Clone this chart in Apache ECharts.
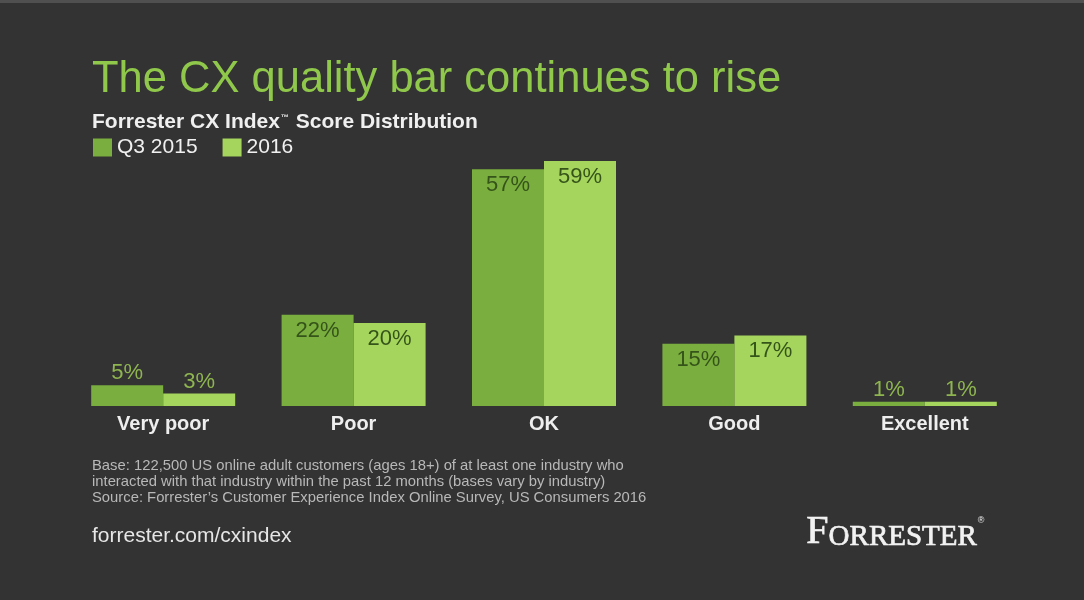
<!DOCTYPE html>
<html>
<head>
<meta charset="utf-8">
<script src="https://cdn.jsdelivr.net/npm/echarts@6/dist/echarts.min.js"></script>
<style>
html,body{margin:0;padding:0;background:#333333;}
#c{width:1084px;height:600px;}
</style>
</head>
<body>
<div id="c"></div>
<script>
const categories = ['Very poor', 'Poor', 'OK', 'Good', 'Excellent'];
const seriesNames = ['Q3 2015', '2016'];
const q3_2015 = [5, 22, 57, 15, 1];
const y2016 = [3, 20, 59, 17, 1];

const darkGreen = '#7aae3e';
const lightGreen = '#a5d55c';

function withLabels(arr) {
  return arr.map(v => {
    const small = v < 10;
    return {
      value: v,
      label: small
        ? { show: true, position: 'top', distance: 1, color: '#8fb550' }
        : { show: true, position: 'insideTop', distance: 5, color: '#35541a' }
    };
  });
}

const chart = echarts.init(document.getElementById('c'), null, { renderer: 'canvas' });
chart.setOption({
  backgroundColor: '#333333',
  animation: false,
  textStyle: { fontFamily: 'Liberation Sans, Arial, sans-serif' },
  title: [
    { text: 'The CX quality bar continues to rise', left: 87, top: 53,
      textStyle: { color: '#8fc84a', fontSize: 43.5, fontWeight: 'normal' } },
    { text: '{m|Forrester CX Index}{t|\u2122}{m| Score Distribution}', left: 87, top: 107,
      textStyle: {
        rich: {
          m: { color: '#f0f0f0', fontSize: 21, fontWeight: 'bold', fontFamily: 'Liberation Sans, Arial, sans-serif' },
          t: { color: '#f0f0f0', fontSize: 8, fontWeight: 'bold', verticalAlign: 'top', padding: [2, 1, 0, 1], fontFamily: 'Liberation Sans, Arial, sans-serif' }
        }
      } }
  ],
  legend: {
    data: seriesNames, left: 93, top: 137, padding: 0,
    icon: 'rect', itemWidth: 19, itemHeight: 18, itemGap: 25,
    textStyle: { color: '#f0f0f0', fontSize: 21, padding: [0, 0, 0, 0] }
  },
  grid: { left: 68, right: 64, top: 161, bottom: 194 },
  xAxis: {
    type: 'category', data: categories,
    axisLine: { show: false }, axisTick: { show: false },
    axisLabel: { color: '#eeeeee', fontSize: 20, fontWeight: 'bold', margin: 8 }
  },
  yAxis: { type: 'value', min: 0, max: 59, show: false, splitLine: { show: false } },
  series: [
    { name: seriesNames[0], type: 'bar', data: withLabels(q3_2015), barWidth: 72, barGap: '0%',
      itemStyle: { color: darkGreen },
      label: { show: true, fontSize: 22, formatter: '{c}%' } },
    { name: seriesNames[1], type: 'bar', data: withLabels(y2016), barWidth: 72,
      itemStyle: { color: lightGreen },
      label: { show: true, fontSize: 22, formatter: '{c}%' } }
  ],
  graphic: [
    { type: 'rect', left: 0, top: 0, shape: { width: 1084, height: 3 }, style: { fill: '#505050' }, silent: true },
    { type: 'text', left: 92, top: 458,
      style: { text: 'Base: 122,500 US online adult customers (ages 18+) of at least one industry who\ninteracted with that industry within the past 12 months (bases vary by industry)\nSource: Forrester\u2019s Customer Experience Index Online Survey, US Consumers 2016',
        fill: '#b8b8b8', fontSize: 14.8, lineHeight: 16, fontFamily: 'Liberation Sans, Arial, sans-serif' } },
    { type: 'text', left: 92, top: 526,
      style: { text: 'forrester.com/cxindex', fill: '#e6e6e6', fontSize: 21, fontFamily: 'Liberation Sans, Arial, sans-serif' } },
    { type: 'text', left: 806, top: 512,
      style: { text: '{a|F}{b|ORRESTER}{c|\u00AE}',
        rich: {
          a: { fontSize: 40, fill: '#f2f2f2', color: '#f2f2f2', stroke: '#f2f2f2', lineWidth: 0.7, fontFamily: 'Liberation Serif, serif', verticalAlign: 'bottom' },
          b: { fontSize: 29, fill: '#f2f2f2', color: '#f2f2f2', stroke: '#f2f2f2', lineWidth: 0.7, fontFamily: 'Liberation Serif, serif', verticalAlign: 'bottom' },
          c: { fontSize: 9, fill: '#f2f2f2', color: '#f2f2f2', fontFamily: 'Liberation Sans, sans-serif', verticalAlign: 'top', padding: [4, 0, 0, 1] }
        } } }
  ]
});
</script>
</body>
</html>
